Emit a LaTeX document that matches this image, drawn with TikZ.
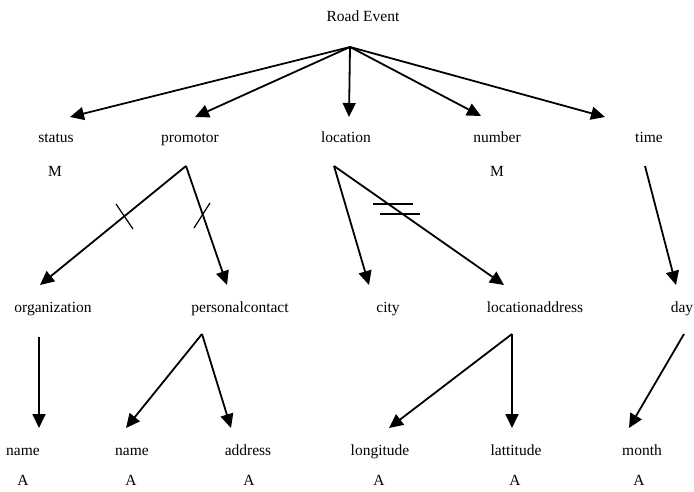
\documentclass[tikz,border=0pt]{standalone}
\usepackage{fontspec}
\setmainfont{Liberation Serif}
\usetikzlibrary{arrows.meta}

\tikzset{
	lbl/.style={anchor=base,inner sep=0pt,font=\fontsize{15.5}{18}\selectfont},
	link/.style={-{Triangle[length=14pt,width=13pt]},line width=1.8pt},
	cardmark/.style={line width=1.2pt}
}

\begin{document}
\begin{tikzpicture}[x=1pt,y=-1pt]
	\useasboundingbox (0,0) rectangle (694,492);
	% labels
	\node[lbl] (root) at (363,22) {Road Event};
	\node[lbl] (status) at (56,143) {status};
	\node[lbl] (promotor) at (190,143) {promotor};
	\node[lbl] (location) at (346,143) {location};
	\node[lbl] (number) at (497,143) {number};
	\node[lbl] (time) at (649,143) {time};
	\node[lbl] (statusM) at (55,177) {M};
	\node[lbl] (numberM) at (497,177) {M};
	\node[lbl] (organization) at (53,312) {organization};
	\node[lbl] (personal) at (240,312) {personalcontact};
	\node[lbl] (city) at (388,312) {city};
	\node[lbl] (locaddr) at (535,312) {locationaddress};
	\node[lbl] (day) at (682,312) {day};
	\node[lbl] (orgname) at (23,455) {name};
	\node[lbl] (pcname) at (132,455) {name};
	\node[lbl] (address) at (248,455) {address};
	\node[lbl] (longitude) at (380,455) {longitude};
	\node[lbl] (lattitude) at (516,455) {lattitude};
	\node[lbl] (month) at (642,455) {month};
	\node[lbl] (orgnameA) at (23,485) {A};
	\node[lbl] (pcnameA) at (131,485) {A};
	\node[lbl] (addressA) at (249,485) {A};
	\node[lbl] (longitudeA) at (379,485) {A};
	\node[lbl] (lattitudeA) at (515,485) {A};
	\node[lbl] (monthA) at (639,485) {A};
	% connector ends
	\coordinate (root-out) at (350,47);
	\coordinate (status-in) at (70,117);
	\coordinate (promotor-in) at (195,117);
	\coordinate (location-in) at (349,117);
	\coordinate (number-in) at (481,116);
	\coordinate (time-in) at (605,117);
	\coordinate (promotor-out) at (186,166);
	\coordinate (location-out) at (334,166);
	\coordinate (time-out) at (645,166);
	\coordinate (organization-in) at (40,285);
	\coordinate (personal-in) at (227,285);
	\coordinate (city-in) at (369,285);
	\coordinate (locaddr-in) at (504,285);
	\coordinate (day-in) at (676,285);
	\coordinate (organization-out) at (39,337);
	\coordinate (personal-out) at (202,334);
	\coordinate (locaddr-out) at (512,334);
	\coordinate (day-out) at (684,334);
	\coordinate (orgname-in) at (39,428);
	\coordinate (pcname-in) at (126,428);
	\coordinate (address-in) at (231,428);
	\coordinate (longitude-in) at (389,428);
	\coordinate (lattitude-in) at (512,428);
	\coordinate (month-in) at (629,428);
	% connectors
	\foreach \t in {status,promotor,location,number,time}
		\draw[link] (root-out) -- (\t-in);
	\draw[link] (promotor-out) -- (organization-in);
	\draw[link] (promotor-out) -- (personal-in);
	\draw[link] (location-out) -- (city-in);
	\draw[link] (location-out) -- (locaddr-in);
	\draw[link] (time-out) -- (day-in);
	\draw[link] (organization-out) -- (orgname-in);
	\draw[link] (personal-out) -- (pcname-in);
	\draw[link] (personal-out) -- (address-in);
	\draw[link] (locaddr-out) -- (longitude-in);
	\draw[link] (locaddr-out) -- (lattitude-in);
	\draw[link] (day-out) -- (month-in);
	% cardinality marks
	\draw[cardmark] (116,204) -- (133,229);
	\draw[cardmark] (194,228) -- (210,203);
	\draw[cardmark] (373,204) -- (413,204);
	\draw[cardmark] (380,214) -- (420,214);
\end{tikzpicture}
\end{document}
